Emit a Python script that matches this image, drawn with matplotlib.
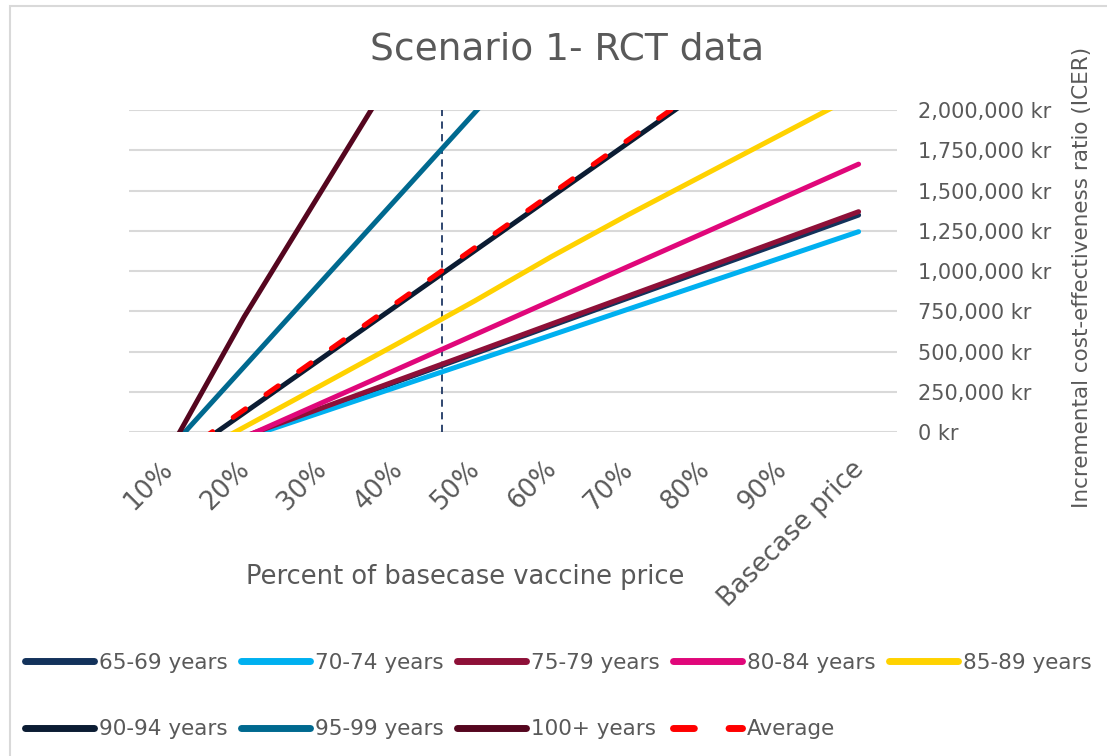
import matplotlib.pyplot as plt
import matplotlib.transforms as mtransforms
from matplotlib.patches import Rectangle
from matplotlib.ticker import FuncFormatter
import numpy as np

# categories on the x axis
categories = ['10%', '20%', '30%', '40%', '50%', '60%', '70%', '80%', '90%', 'Basecase price']

# ICER values (kr); values below 0 / above 2M are clipped by the axis
icer_65_69 = [-205000, -30000, 143000, 316000, 488000, 661000, 833000, 1005000, 1176000, 1348000]
icer_70_74 = [-197000, -37000, 123000, 283000, 443000, 603000, 764000, 924000, 1084000, 1245000]
icer_75_79 = [-200000, -26000, 149000, 323000, 497000, 672000, 846000, 1020000, 1195000, 1369000]
icer_80_84 = [-243000, -31000, 181000, 393000, 605000, 817000, 1029000, 1240000, 1452000, 1664000]
icer_85_89 = [-227000, 32000, 291000, 551000, 815000, 1090000, 1350000, 1600000, 1850000, 2100000]
icer_90_94 = [-213000, 121000, 456000, 791000, 1126000, 1461000, 1796000, 2131000, 2466000, 2800000]
icer_95_99 = [-118000, 407000, 933000, 1458000, 1983000, 2508000, 3033000, 3560000, 4085000, 4610000]
icer_100p = [-135000, 717000, 1493000, 2270000, 3050000, 3830000, 4600000, 5380000, 6150000, 6930000]
icer_avg = [-190000, 140000, 475000, 810000, 1145000, 1480000, 1815000, 2150000, 2485000, 2820000]

series_names = ['65-69 years', '70-74 years', '75-79 years', '80-84 years', '85-89 years',
                '90-94 years', '95-99 years', '100+ years', 'Average']
series_values = [icer_65_69, icer_70_74, icer_75_79, icer_80_84, icer_85_89,
                 icer_90_94, icer_95_99, icer_100p, icer_avg]
series_colors = ['#13325b', '#00b0f0', '#8e1038', '#e0077a', '#ffd200',
                 '#0b1c33', '#00698f', '#55061f', '#ff0000']

# marker line position (between 40% and 50%)
marker_pos = 3.58

gray = '#595959'
fig = plt.figure(figsize=(11.07, 7.56), dpi=100)
ax = fig.add_axes([129 / 1107, 1 - 432.3 / 756, 768 / 1107, 322.3 / 756])

x = np.arange(len(categories))
handles = []
for name, vals, col in zip(series_names, series_values, series_colors):
    if name == 'Average':
        h, = ax.plot(x, vals, color=col, lw=3.6, ls=(0, (3.0, 5.0)),
                     dash_capstyle='round', label=name, zorder=5)
    else:
        h, = ax.plot(x, vals, color=col, lw=3.6, solid_capstyle='round',
                     label=name, zorder=4)
    handles.append(h)

ax.axvline(marker_pos, color='#1f3864', lw=1.3, ls=(0, (4, 3)), zorder=3)

ax.set_xlim(-0.5, len(categories) - 0.5)
ax.set_ylim(0, 2000000)
ax.set_yticks(np.arange(0, 2000001, 250000))
ax.yaxis.set_major_formatter(FuncFormatter(lambda v, p: f'{int(v):,} kr'))
ax.yaxis.tick_right()
ax.tick_params(axis='y', length=0, pad=15, labelsize=15, labelcolor=gray)
ax.grid(axis='y', color='#d9d9d9', lw=1.5, zorder=0)
ax.set_axisbelow(True)
for s in ax.spines.values():
    s.set_visible(False)

ax.set_xticks(x)
ax.set_xticklabels(categories, rotation=45, ha='right', va='top',
                   rotation_mode='anchor', fontsize=18.5, color=gray)
ax.tick_params(axis='x', length=0, pad=17)
offset = mtransforms.ScaledTranslation(-8 / 100, 0, fig.dpi_scale_trans)
for lbl in ax.get_xticklabels():
    lbl.set_transform(lbl.get_transform() + offset)

fig.text(567 / 1107, 1 - 50 / 756, 'Scenario 1- RCT data', ha='center', va='center',
         fontsize=27, color=gray)
fig.text(465 / 1107, 1 - 577 / 756, 'Percent of basecase vaccine price', ha='center',
         va='center', fontsize=18.5, color=gray)
fig.text(1082 / 1107, 1 - 277 / 756, 'Incremental cost-effectiveness ratio (ICER)',
         ha='center', va='center', rotation=90, fontsize=15.5, color=gray)

# chart frame
fig.patches.append(Rectangle((10 / 1107, -0.1), 1.2, 1.1 - 6 / 756, transform=fig.transFigure,
                             fill=False, edgecolor='#d9d9d9', lw=1.5))

# legend row-wise order in 5 columns
order = [0, 5, 1, 6, 2, 7, 3, 8, 4]
leg = fig.legend([handles[i] for i in order], [series_names[i] for i in order],
                 loc='upper left', bbox_to_anchor=(25 / 1107, 1 - 653 / 756),
                 ncol=5, frameon=False, fontsize=15.5, handlelength=3.2,
                 handletextpad=0.25, columnspacing=0.6, labelspacing=2.15,
                 borderpad=0, borderaxespad=0)
for t in leg.get_texts():
    t.set_color(gray)
for lh in leg.get_lines():
    lh.set_linewidth(5)

fig.savefig('out.png', dpi=100)
